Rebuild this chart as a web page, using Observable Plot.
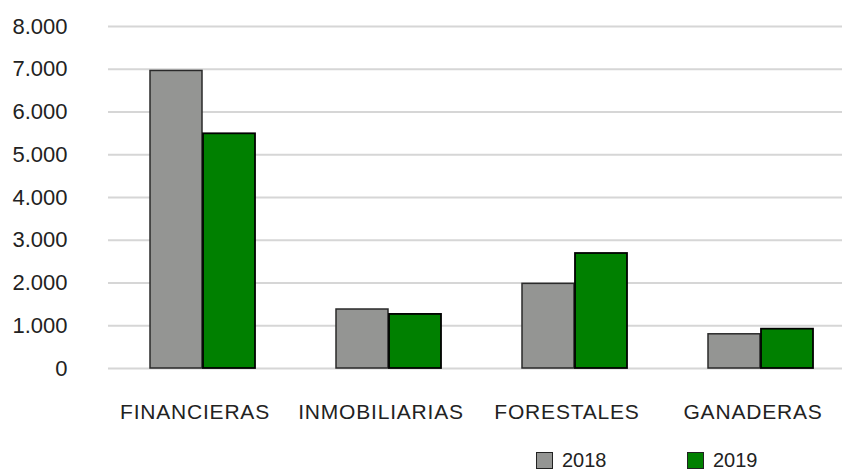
<!DOCTYPE html>
<html>
<head>
<meta charset="utf-8">
<script src="https://cdn.jsdelivr.net/npm/d3@7"></script>
<script src="https://cdn.jsdelivr.net/npm/@observablehq/plot@0.6"></script>
<style>
  html, body { margin: 0; padding: 0; background: #fff; overflow: hidden; }
  #wrap { position: relative; width: 842px; height: 472px; font-family: "Liberation Sans", Arial, sans-serif; }
  #wrap svg { display: block; }
  #wrap [aria-label^="x-axis"] text { font-size: 21px; letter-spacing: 0.8px; }
  #legend { position: absolute; left: 536px; top: 451px; height: 19px; display: flex; align-items: center; font-size: 20px; line-height: 19px; color: #222; }
  .item { display: flex; align-items: center; width: 151px; height: 19px; }
  .sw { width: 15px; height: 15px; border: 1.5px solid #222; margin-right: 9px; }
</style>
</head>
<body>
<div id="wrap"></div>
<script>
const categories = ["FINANCIERAS", "INMOBILIARIAS", "FORESTALES", "GANADERAS"];
const values2018 = [6960, 1380, 1980, 800];
const values2019 = [5490, 1265, 2690, 920];
const yTicks = [0, 1000, 2000, 3000, 4000, 5000, 6000, 7000, 8000];
const seriesNames = ["2018", "2019"];
const seriesColors = ["#949593", "#008000"];

const data = categories.map((c, i) => ({cat: c, v2018: values2018[i], v2019: values2019[i]}));
const fmt = d => d3.format(",")(d).replace(/,/g, ".");

const chart = Plot.plot({
  width: 842,
  height: 440,
  marginLeft: 108,
  marginRight: 0,
  marginTop: 26,
  marginBottom: 72,
  style: {fontFamily: "'Liberation Sans', Arial, sans-serif", fontSize: "22px", color: "#222", background: "#fff"},
  x: {domain: categories, range: [108, 854], paddingInner: 0.437, paddingOuter: 0.2185, tickSize: 0, tickPadding: 36, label: null},
  y: {domain: [0, 8000], ticks: yTicks, tickFormat: fmt, tickSize: 0, tickPadding: 41, label: null},
  marks: [
    Plot.ruleY(yTicks, {stroke: "#d6d6d6", strokeWidth: 2}),
    Plot.barY(data, {x: "cat", y: "v2018", fill: seriesColors[0], stroke: "#2a2a2a", strokeWidth: 1.5, insetRight: 53}),
    Plot.barY(data, {x: "cat", y: "v2019", fill: seriesColors[1], stroke: "#000", strokeWidth: 1.8, insetLeft: 53})
  ]
});
chart.querySelectorAll('[aria-label^="x-axis"] text').forEach(t => t.setAttribute("dx", "-8"));
const wrap = document.getElementById("wrap");
wrap.appendChild(chart);

const legend = document.createElement("div");
legend.id = "legend";
seriesNames.forEach((n, i) => {
  const it = document.createElement("div");
  it.className = "item";
  const sw = document.createElement("div");
  sw.className = "sw";
  sw.style.background = seriesColors[i];
  const t = document.createElement("span");
  t.textContent = n;
  it.appendChild(sw); it.appendChild(t);
  legend.appendChild(it);
});
wrap.appendChild(legend);
</script>
</body>
</html>
